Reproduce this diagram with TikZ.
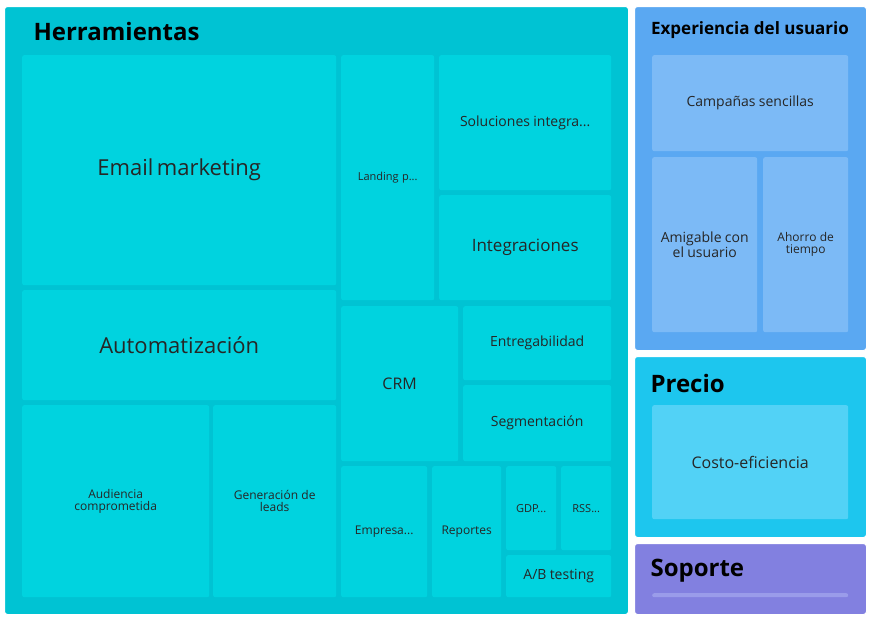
\documentclass[tikz,border=0pt]{standalone}
\usepackage{fontspec}
\setmainfont{Open Sans}
\usetikzlibrary{positioning}
\definecolor{toolbg}{HTML}{00C3D3}
\definecolor{tooltile}{HTML}{00D3DF}
\definecolor{uxbg}{HTML}{5AA8F2}
\definecolor{uxtile}{HTML}{7CBAF6}
\definecolor{pricebg}{HTML}{1DC6EE}
\definecolor{pricetile}{HTML}{52D2F6}
\definecolor{supbg}{HTML}{8280E0}
\definecolor{suptile}{HTML}{9A9CEA}
\tikzset{
  tile/.style={rectangle, rounded corners=2pt, fill=tooltile, draw=none, anchor=north west, align=center, text=black!85, inner sep=2pt},
  group/.style={rectangle, rounded corners=3pt, draw=white, line width=1pt, anchor=north west, inner sep=0pt},
  title/.style={anchor=west, font=\bfseries\fontsize{24}{28}\selectfont, text=black},
}
\newcommand{\fs}[1]{\fontsize{#1}{#1}\selectfont\baselineskip=1.5\baselineskip}
% x y w h in pixels
\newcommand{\tile}[7][]{\node[tile, minimum width=#4pt, minimum height=#5pt, text width={\dimexpr#4pt-8pt\relax}, #1] (#2) at (#3) {#6 #7};}
\begin{document}
\begin{tikzpicture}[x=1pt, y=-1pt]
\useasboundingbox (0,0) rectangle (871,619);

% Herramientas
\node[group, fill=toolbg, minimum width=624pt, minimum height=608pt] (tools) at (4,6) {};
\node[title] (toolstitle) at (30,31) {Herramientas};
\tile{email}{22,55}{314}{230}{\fs{22}}{Email marketing}
\tile{auto}{22,290}{314}{110}{\fs{22}}{Automatización}
\tile{audiencia}{22,405}{187}{192}{\fs{12}}{Audiencia\\comprometida}
\tile{leads}{213,405}{123}{192}{\fs{12}}{Generación de\\leads}
\tile{landing}{341,55}{93}{245}{\fs{11}}{Landing p...}
\tile{soluciones}{439,55}{172}{135}{\fs{14}}{Soluciones integra...}
\tile{integ}{439,195}{172}{105}{\fs{17}}{Integraciones}
\tile{crm}{341,306}{117}{155}{\fs{16}}{CRM}
\tile{entreg}{463,306}{148}{74}{\fs{14}}{Entregabilidad}
\tile{segm}{463,385}{148}{76}{\fs{14}}{Segmentación}
\tile{empresa}{341,466}{86}{131}{\fs{12}}{Empresa...}
\tile{reportes}{432,466}{69}{131}{\fs{12}}{Reportes}
\tile{gdp}{506,466}{50}{84}{\fs{11}}{GDP...}
\tile{rss}{561,466}{50}{84}{\fs{11}}{RSS...}
\tile{abtest}{506,555}{105}{42}{\fs{14}}{A/B testing}

% Experiencia del usuario
\node[group, fill=uxbg, minimum width=232pt, minimum height=344pt] (ux) at (634,6) {};
\node[title, anchor=center, font=\bfseries\fs{17}] (uxtitle) at (750,30) {Experiencia del usuario};
\tile[fill=uxtile]{campanas}{652,55}{196}{96}{\fs{14}}{Campañas sencillas}
\tile[fill=uxtile]{amigable}{652,157}{105}{175}{\fs{14}}{Amigable con\\el usuario}
\tile[fill=uxtile]{ahorro}{763,157}{85}{175}{\fs{12}}{Ahorro de\\tiempo}

% Precio
\node[group, fill=pricebg, minimum width=232pt, minimum height=181pt] (precio) at (634,356) {};
\node[title] (preciotitle) at (647,383) {Precio};
\tile[fill=pricetile]{costo}{652,405}{196}{114}{\fs{16}}{Costo-eficiencia}

% Soporte
\node[group, fill=supbg, minimum width=232pt, minimum height=71pt] (soporte) at (634,543) {};
\node[title] (soportetitle) at (647,571) {Soporte};
\node[tile, fill=suptile, minimum width=196pt, minimum height=4pt, inner sep=0pt] (soportebar) at (652,593) {};

\end{tikzpicture}
\end{document}
